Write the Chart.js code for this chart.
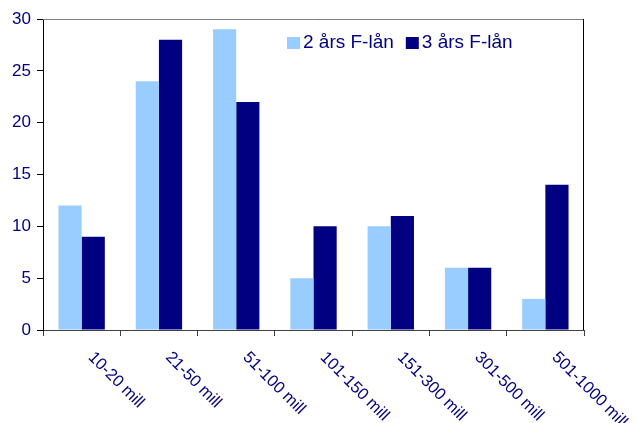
<!DOCTYPE html>
<html lang="sv">
<head>
    <meta charset="UTF-8">
    <title>F-lån per storlek</title>
    <script src="https://cdn.jsdelivr.net/npm/chart.js"></script>
    <style>
        html, body { margin: 0; padding: 0; background: #fff; }
        #wrap { width: 639px; height: 423px; position: relative; }
    </style>
</head>
<body>
    <div id="wrap"><canvas id="chart"></canvas></div>
    <script>
        // Data
        const categories = ['10-20 mill', '21-50 mill', '51-100 mill', '101-150 mill', '151-300 mill', '301-500 mill', '501-1000 mill'];
        const seriesNames = ['2 års F-lån', '3 års F-lån'];
        const twoYear = [12, 24, 29, 5, 10, 6, 3];
        const threeYear = [9, 28, 22, 10, 11, 6, 14];
        const yTicks = [0, 5, 10, 15, 20, 25, 30];

        const textColor = '#000080';
        const fontFamily = '"Liberation Sans", Arial, sans-serif';
        const colors = ['#99ccff', '#000080'];

        // frame, rotated category labels and legend
        const extras = {
            id: 'extras',
            afterDraw(chart) {
                const ctx = chart.ctx;
                const a = chart.chartArea;
                ctx.save();
                // top and right border of plot area
                ctx.strokeStyle = '#808080';
                ctx.lineWidth = 1;
                ctx.beginPath();
                ctx.moveTo(a.left, a.top + 0.5);
                ctx.lineTo(a.right, a.top + 0.5);
                ctx.stroke();
                ctx.strokeStyle = '#000000';
                ctx.beginPath();
                ctx.moveTo(a.right - 0.5, a.top);
                ctx.lineTo(a.right - 0.5, a.bottom);
                ctx.stroke();

                // category labels, rotated down-right
                const x = chart.scales.x;
                ctx.fillStyle = textColor;
                ctx.font = '16.5px ' + fontFamily;
                ctx.textAlign = 'left';
                ctx.textBaseline = 'top';
                categories.forEach((c, i) => {
                    const px = x.getPixelForValue(i);
                    ctx.save();
                    ctx.translate(px + 15, a.bottom + 19);
                    ctx.rotate(Math.PI / 4);
                    ctx.fillText(c, 0, 0);
                    ctx.restore();
                });

                // legend
                ctx.font = '19px ' + fontFamily;
                ctx.textBaseline = 'middle';
                let lx = 287;
                const ly = 43;
                seriesNames.forEach((n, i) => {
                    ctx.fillStyle = colors[i];
                    ctx.fillRect(lx, ly - 6, 13, 12);
                    ctx.fillStyle = textColor;
                    ctx.fillText(n, lx + 16, ly);
                    lx += 16 + ctx.measureText(n).width + 12;
                });
                ctx.restore();
            }
        };

        new Chart(document.getElementById('chart'), {
            type: 'bar',
            data: {
                labels: categories,
                datasets: [
                    { label: seriesNames[0], data: twoYear, backgroundColor: colors[0] },
                    { label: seriesNames[1], data: threeYear, backgroundColor: colors[1] }
                ]
            },
            options: {
                responsive: true,
                maintainAspectRatio: false,
                animation: false,
                layout: { padding: { top: 19, right: 55, left: 0, bottom: 0 } },
                datasets: { bar: { barPercentage: 1, categoryPercentage: 0.6 } },
                plugins: { legend: { display: false }, tooltip: { enabled: false } },
                scales: {
                    x: {
                        ticks: { display: false },
                        grid: { offset: true, drawOnChartArea: false, drawTicks: true, tickLength: 6, color: '#404040' },
                        border: { color: '#404040' },
                        afterFit(s) { s.height = 93; }
                    },
                    y: {
                        min: 0,
                        max: 30,
                        afterBuildTicks(s) { s.ticks = yTicks.map(v => ({ value: v })); },
                        ticks: { color: textColor, font: { size: 17, family: fontFamily }, padding: 6 },
                        grid: { drawOnChartArea: false, tickLength: 6, color: '#000000' },
                        border: { color: '#000000' },
                        afterFit(s) { s.width = 43; }
                    }
                }
            },
            plugins: [extras]
        });
    </script>
</body>
</html>
